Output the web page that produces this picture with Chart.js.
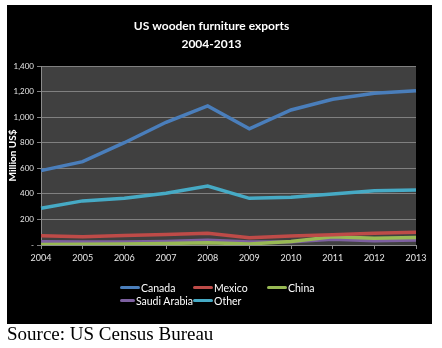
<!DOCTYPE html>
<html>
<head>
<meta charset="utf-8">
<script src="https://cdn.jsdelivr.net/npm/chart.js@4/dist/chart.umd.min.js"></script>
<style>
  html, body { margin: 0; padding: 0; background: #fff; width: 442px; height: 348px; overflow: hidden; }
  #panel { position: absolute; left: 7px; top: 5px; width: 425px; height: 319px; background: #000; }
  #wrap { position: absolute; left: 0; top: 0; width: 425px; height: 319px; }
  #legend { position: absolute; left: 113px; top: 276px; width: 240px; display: grid;
            grid-template-columns: 73px 74px 73px; row-gap: 0px;
            font-family: Lato, "Liberation Sans", sans-serif; font-size: 10.5px; color: #fff; }
  .item { display: flex; align-items: center; height: 13px; white-space: nowrap; }
  .swatch { width: 20px; height: 3.5px; border-radius: 2px; margin-right: 1px; }
  #source { position: absolute; left: 7px; top: 323px; font-family: "Liberation Serif", "Times New Roman", serif;
            font-size: 19px; line-height: 22px; color: #000; }
</style>
</head>
<body>
<div id="panel">
  <div id="wrap"><canvas id="c"></canvas></div>
  <div id="legend"></div>
</div>
<div id="source">Source: US Census Bureau</div>
<script>
// Years on the category axis
const years = ['2004','2005','2006','2007','2008','2009','2010','2011','2012','2013'];

// Export values by destination, million US$
const canada      = [582, 652, 800, 960, 1088, 908, 1056, 1140, 1186, 1206];
const mexico      = [72, 64, 74, 82, 92, 57, 70, 80, 92, 100];
const china       = [4, 6, 8, 12, 18, 8, 28, 64, 52, 58];
const saudiArabia = [26, 24, 24, 28, 38, 24, 26, 44, 34, 40];
const other       = [287, 345, 365, 405, 461, 365, 373, 399, 425, 430];

// Series names and colours
const seriesNames  = ['Canada', 'Mexico', 'China', 'Saudi Arabia', 'Other'];
const seriesColors = ['#4a7ebb', '#be4b48', '#98b954', '#7d60a0', '#46aac5'];
const seriesData   = [canada, mexico, china, saudiArabia, other];

const datasets = seriesNames.map((name, i) => ({
  label: name,
  data: seriesData[i],
  borderColor: seriesColors[i],
  backgroundColor: seriesColors[i],
  borderWidth: 3.5,
  pointRadius: 0,
  tension: 0,
  fill: false
}));

// Dark grey plot background
const plotBg = {
  id: 'plotBg',
  beforeDraw(chart) {
    const a = chart.chartArea, ctx = chart.ctx;
    ctx.save();
    ctx.fillStyle = '#404040';
    ctx.fillRect(a.left, a.top, a.right - a.left, a.bottom - a.top);
    ctx.restore();
  }
};

new Chart(document.getElementById('c'), {
  type: 'line',
  data: { labels: years, datasets },
  plugins: [plotBg],
  options: {
    responsive: true,
    maintainAspectRatio: false,
    animation: false,
    layout: { padding: { left: 0, right: 16, top: 0, bottom: 0 } },
    plugins: {
      legend: { display: false },
      tooltip: { enabled: false },
      title: {
        display: true,
        text: ['US wooden furniture exports', '2004-2013'],
        color: '#fff',
        font: { family: 'Lato, "Liberation Sans", sans-serif', size: 12, weight: 'bold', lineHeight: 1.5 },
        padding: { top: 12, bottom: 13 }
      }
    },
    scales: {
      x: {
        offset: false,
        grid: { display: true, drawOnChartArea: false, drawTicks: true, tickLength: 4, color: '#8c8c8c' },
        border: { display: true, color: '#8c8c8c' },
        ticks: { color: '#e6e6e6', font: { family: 'Lato, "Liberation Sans", sans-serif', size: 9 },
                 padding: 4, maxRotation: 0, autoSkip: false },
        afterFit(scale) { scale.height = 79; }
      },
      y: {
        min: 0, max: 1400,
        grid: { color: '#808080', lineWidth: 1, drawTicks: true, tickLength: 4 },
        border: { display: true, color: '#8c8c8c' },
        ticks: {
          stepSize: 200,
          color: '#e6e6e6',
          font: { family: 'Lato, "Liberation Sans", sans-serif', size: 8 },
          padding: 3,
          callback: v => v === 0 ? '-' : v.toLocaleString('en-US')
        },
        title: {
          display: true, text: 'Million US$', color: '#fff', padding: 0,
          font: { family: 'Lato, "Liberation Sans", sans-serif', size: 10, weight: 'bold' }
        },
        afterFit(scale) { scale.width = 34; }
      }
    }
  }
});

// Legend built from the series arrays
const legend = document.getElementById('legend');
seriesNames.forEach((name, i) => {
  const item = document.createElement('div');
  item.className = 'item';
  const sw = document.createElement('span');
  sw.className = 'swatch';
  sw.style.background = seriesColors[i];
  const tx = document.createElement('span');
  tx.textContent = name;
  item.appendChild(sw);
  item.appendChild(tx);
  legend.appendChild(item);
});
</script>
</body>
</html>
